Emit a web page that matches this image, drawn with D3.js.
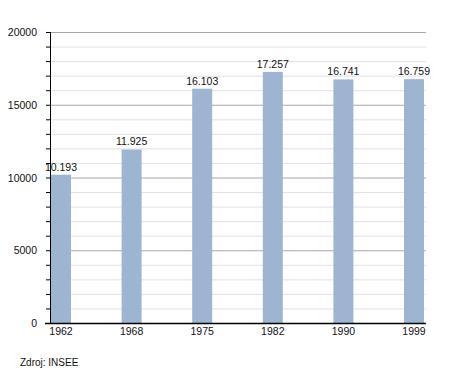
<!DOCTYPE html>
<html><head><meta charset="utf-8">
<script src="https://cdn.jsdelivr.net/npm/d3@7"></script>
<style>body{margin:0;background:#fff;}svg{display:block;font-family:"Liberation Sans",Arial,sans-serif;}</style>
</head><body>
<svg id="c" width="455" height="373"></svg>
<script>
const years = ["1962","1968","1975","1982","1990","1999"];
const population = [10193, 11925, 16103, 17257, 16741, 16759];
const valueLabels = ["10.193","11.925","16.103","17.257","16.741","16.759"];
const yTicks = [0, 5000, 10000, 15000, 20000];
const source = "Zdroj: INSEE";

const svg = d3.select("#c");
const x0 = 50, x1 = 426, yTop = 32, yBot = 323;
const y = d3.scaleLinear().domain([0, 20000]).range([yBot, yTop]);
const xc = d3.scalePoint().domain(years).range([61, 414]);
const bw = 20;
const fs = 10.5;

// minor gridlines
const minor = d3.range(1000, 20001, 1000).filter(v => v % 5000 !== 0);
svg.append("g").selectAll("line").data(minor).join("line")
  .attr("x1", x0).attr("x2", x1).attr("y1", d => y(d)+0.5).attr("y2", d => y(d)+0.5)
  .attr("stroke", "#e2e2e2").attr("stroke-width", 1);
svg.append("g").selectAll("line").data(yTicks.filter(v => v > 0)).join("line")
  .attr("x1", x0).attr("x2", x1).attr("y1", d => y(d)+0.5).attr("y2", d => y(d)+0.5)
  .attr("stroke", "#a8a8a8").attr("stroke-width", 1);

// bars
svg.append("g").selectAll("rect").data(population).join("rect")
  .attr("x", (d,i) => xc(years[i]) - bw/2).attr("width", bw)
  .attr("y", d => y(d)).attr("height", d => yBot - y(d))
  .attr("fill", "#9db5d0");

// value labels
svg.append("g").selectAll("text").data(valueLabels).join("text")
  .attr("x", (d,i) => xc(years[i])).attr("y", (d,i) => y(population[i]) - 4)
  .attr("text-anchor", "middle").attr("font-size", fs).attr("fill", "#111").text(d => d);

// y axis
const minorAll = d3.range(0, 20001, 1000);
svg.append("g").selectAll("line").data(minorAll).join("line")
  .attr("x1", x0 - 4).attr("x2", x0).attr("y1", d => y(d)+0.5).attr("y2", d => y(d)+0.5)
  .attr("stroke", "#000");
svg.append("line").attr("x1", x0+0.5).attr("x2", x0+0.5).attr("y1", yTop).attr("y2", yBot+1).attr("stroke", "#000");
svg.append("line").attr("x1", x0-5).attr("x2", x1).attr("y1", yBot+0.5).attr("y2", yBot+0.5).attr("stroke", "#000").attr("stroke-width", 1.3);
svg.append("g").selectAll("text").data(yTicks).join("text")
  .attr("x", 37).attr("y", d => y(d) + 4).attr("text-anchor", "end")
  .attr("font-size", fs).attr("fill", "#111").text(d => d);

// x labels
svg.append("g").selectAll("text").data(years).join("text")
  .attr("x", d => xc(d)).attr("y", 335).attr("text-anchor", "middle")
  .attr("font-size", fs).attr("fill", "#111").text(d => d);

svg.append("text").attr("x", 20).attr("y", 366).attr("font-size", 10).attr("fill", "#111").text(source);
</script>
</body></html>
